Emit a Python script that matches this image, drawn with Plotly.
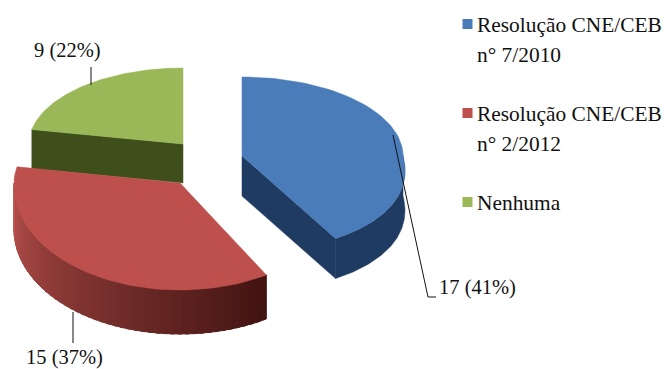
import math
import plotly.graph_objects as go

labels = ["Resolução CNE/CEB<br>n° 7/2010", "Resolução CNE/CEB<br>n° 2/2012", "Nenhuma"]
values = [17, 15, 9]
value_labels = ["17 (41%)", "15 (37%)", "9 (22%)"]

TOP = ["#4a7cb9", "#bd4f4c", "#9bb859"]
WALL = ["#1f3b62", None, "#3f4f1c"]
GRAD_RED = ((186, 82, 78), (66, 20, 18))
FONT = "Liberation Serif"
FS = 20.5
FS_LEGEND = 21.4

# projection of each exploded slice (pixel units of the 664x369 canvas)
GEOM = [
    dict(cx=242, cy=156, rx=161, ryb=79, ryf=96, k=.16, d=40),
    dict(cx=180, cy=183, rx=166, ryb=85, ryf=107, k=.02, d=44),
    dict(cx=183, cy=144, rx=154, ryb=76, ryf=80, k=0, d=39),
]

total = sum(values)
starts, a = [], 0.0
for v in values:
    starts.append(a)
    a += v / total * 2 * math.pi


def pt(g, ang, dz=0):
    c, s = math.cos(ang), math.sin(ang)
    f = 1 + g["k"] * max(0, -c)
    ry = g["ryb"] if c > 0 else g["ryf"]
    return g["cx"] + g["rx"] * s * f, g["cy"] - ry * c + dz


def arc(g, a0, a1, dz=0, n=70):
    return [pt(g, a0 + (a1 - a0) * i / n, dz) for i in range(n + 1)]


fig = go.Figure()


def poly(points, color, width=0.5):
    xs = [p[0] for p in points] + [points[0][0]]
    ys = [p[1] for p in points] + [points[0][1]]
    fig.add_trace(go.Scatter(x=xs, y=ys, fill="toself", fillcolor=color, mode="lines",
                             line=dict(width=width, color=color), hoverinfo="skip", showlegend=False))


def mix(c0, c1, t):
    return "rgb(%d,%d,%d)" % tuple(round(c0[i] + (c1[i] - c0[i]) * t) for i in range(3))


for idx in (2, 1, 0):
    g = GEOM[idx]
    a0 = starts[idx]
    a1 = a0 + values[idx] / total * 2 * math.pi
    centre = (g["cx"], g["cy"])
    lo, hi = max(a0, math.pi / 2), min(a1, 1.5 * math.pi)
    if idx == 0:
        # cut wall from centre to the front corner, then the outer wall
        e = pt(g, a1)
        poly([centre, e, (e[0], e[1] + g["d"]), (centre[0], centre[1] + g["d"])], WALL[0])
        poly(arc(g, lo, hi) + arc(g, hi, lo, g["d"]), WALL[0])
    elif idx == 1:
        n = 48
        for i in range(n):
            b0 = lo + (hi - lo) * i / n
            b1 = lo + (hi - lo) * (i + 1.5) / n
            t = 1 - i / (n - 1)
            poly(arc(g, b0, min(b1, hi), 0, 3) + arc(g, min(b1, hi), b0, g["d"], 3),
                 mix(*GRAD_RED, t ** .9), width=1)
    else:
        e = pt(g, a0)
        poly([e, centre, (centre[0], centre[1] + g["d"]), (e[0], e[1] + g["d"])], WALL[2])
    poly([centre] + arc(g, a0, a1), TOP[idx])

# leader lines
leaders = [[(393, 135), (428, 297), (436, 297)], [(73, 312), (73, 343)], [(91, 67), (91, 85)]]
for pts in leaders:
    fig.add_trace(go.Scatter(x=[p[0] for p in pts], y=[p[1] for p in pts], mode="lines",
                             line=dict(color="#111111", width=1), hoverinfo="skip", showlegend=False))

ann = []
for text, (x, y) in zip(value_labels, [(437, 287), (24, 357), (32, 50)]):
    ann.append(dict(x=x, y=y, text=text, showarrow=False, xanchor="left", yanchor="middle",
                    font=dict(family=FONT, size=FS, color="#111111")))

# legend
key_y = [24, 113, 202]
fig.add_trace(go.Scatter(x=[467.5] * 3, y=key_y, mode="markers",
                         marker=dict(symbol="square", size=10, color=TOP), hoverinfo="skip", showlegend=False))
for lab, y in zip(labels, key_y):
    for j, line in enumerate(lab.split("<br>")):
        ann.append(dict(x=475, y=y + 1 + j * 30, text=line, showarrow=False, xanchor="left", yanchor="middle",
                        font=dict(family=FONT, size=FS_LEGEND, color="#111111")))

fig.update_layout(
    width=664, height=369, margin=dict(l=0, r=0, t=0, b=0), showlegend=False,
    paper_bgcolor="white", plot_bgcolor="white", annotations=ann,
    xaxis=dict(range=[0, 664], visible=False, fixedrange=True),
    yaxis=dict(range=[369, 0], visible=False, fixedrange=True),
)
fig.write_html("out.html", config=dict(displayModeBar=False),
               post_script="document.body.style.margin='0';document.documentElement.style.overflow='hidden';")
